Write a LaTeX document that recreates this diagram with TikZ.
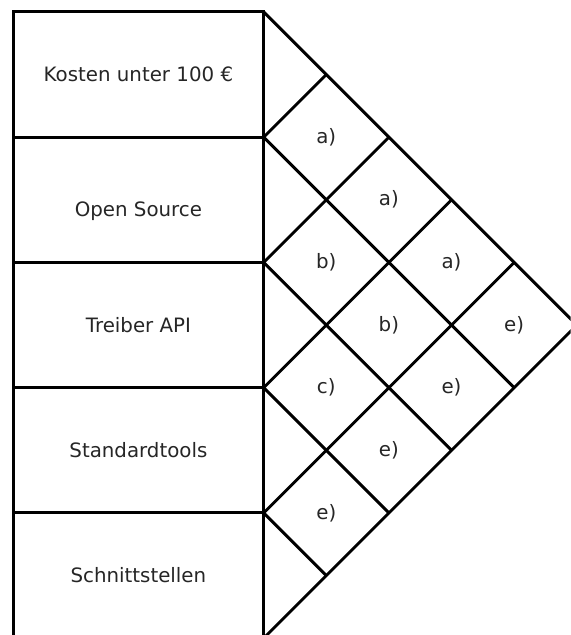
\documentclass[tikz,border=0pt]{standalone}
\usepackage{fontspec}
\setmainfont{DejaVu Sans}
\usepackage{tikz}
\usetikzlibrary{positioning}
\tikzset{
row/.style={draw, minimum width=4cm, minimum height=2cm, inner sep=0pt, outer sep=0pt}, % criterion boxes
pair/.style={text=black!85}, % result in each diamond
every node/.style={font=\fontsize{9pt}{11pt}\selectfont, text=black!85},
}
\begin{document}
\begin{tikzpicture}[line width=1.3pt]
        \useasboundingbox (-0.21,0.19) rectangle (8.9,-9.95);
        \clip (-0.21,0.19) rectangle (8.9,-9.95);
        \node[row] (r1) at (2,-1) {Kosten unter 100 €};
        \node[row, below=0pt of r1] (r2) {\raisebox{-5pt}[\height][\depth]{Open Source}};
        \node[row, below=0pt of r2] (r3) {Treiber API};
        \node[row, below=0pt of r3] (r4) {Standardtools};
        \node[row, below=0pt of r4] (r5) {Schnittstellen};
        %diagonal lines of the triangle
        \foreach \k in {1,...,5}{
          \draw (r\k.north east) -- ++(6-\k,\k-6);
          \draw (r\k.south east) -- ++(\k,\k);
        }
        %results of the pairwise comparison
        \foreach \i/\j/\l in {1/2/a, 1/3/a, 2/3/b, 1/4/a, 2/4/b, 1/5/e, 3/4/c, 2/5/e, 3/5/e, 4/5/e}
          \node[pair] (\i\j) at (4+\j-\i,1-\i-\j) {\l)};
\end{tikzpicture}
\end{document}
